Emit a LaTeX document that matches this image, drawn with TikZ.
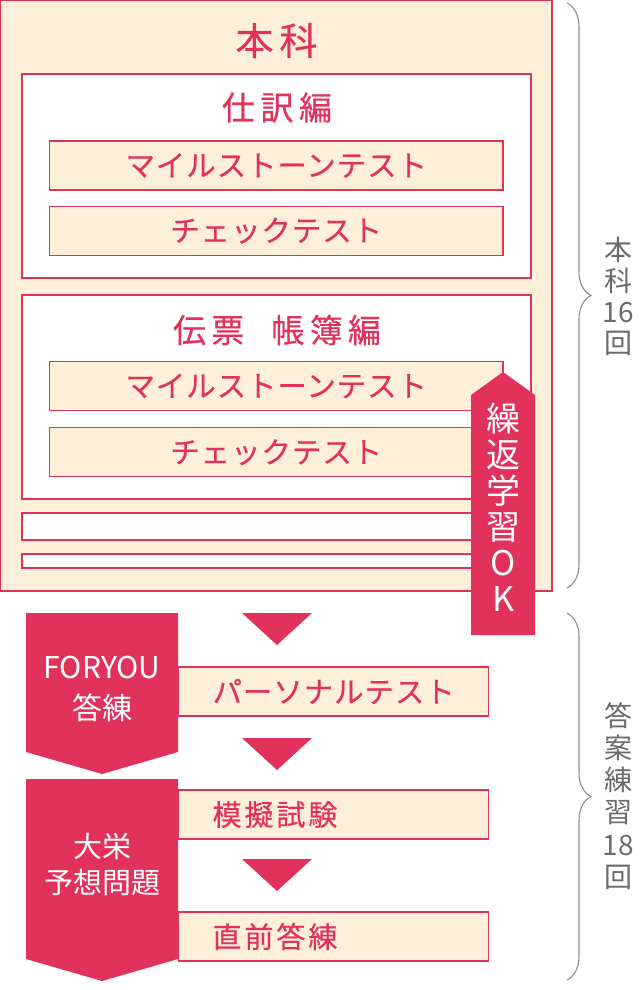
\documentclass[tikz,border=0pt]{standalone}
\usepackage{fontspec}
\setmainfont{Noto Sans CJK JP}
\usetikzlibrary{positioning,calc,decorations.pathreplacing}
\definecolor{crim}{HTML}{E1325B}
\definecolor{cream}{HTML}{FEF0D8}
\definecolor{greytext}{HTML}{6B6B6B}
\definecolor{bracegrey}{HTML}{8C8C8C}
\providecommand{\fsz}[2]{\fontsize{#1}{#2}\selectfont}
\providecommand{\spc}[2]{\fontsize{#1}{#1}\selectfont\addfontfeatures{LetterSpace=#2,FakeBold=0.4}}

\begin{document}
\begin{tikzpicture}[x=1pt,y=-1pt,
    frame/.style={draw=crim,line width=1.2pt},
    testbox/.style={frame,fill=cream,minimum width=453.5pt,minimum height=49pt,inner sep=0pt,text=crim,font=\spc{29.5}{3}},
    stepbox/.style={frame,fill=cream,minimum width=310pt,minimum height=49pt,text width=242pt,inner xsep=34pt,inner ysep=0pt,align=left,anchor=west,text=crim,font=\spc{29.5}{3}},
    title/.style={text=crim,inner sep=0pt},
    tag/.style={text=white,inner sep=0pt,align=center},
    side/.style={text=greytext,inner sep=0pt,align=center},
    curly/.style={draw=bracegrey,line width=1.1pt,decorate,decoration={brace,amplitude=24pt}}]

    \useasboundingbox (0,0) rectangle (640,990);
    % honka block
    \draw[frame,fill=cream] (0.6,0.6) rectangle (552,591);
    \node[title,font=\spc{38}{16}] (honka) at (276.5,40.5) {本科};
    \draw[frame,fill=white] (22,74) rectangle (531,278);
    \node[title,font=\spc{33}{17}] (shiwake) at (277,107.5) {仕訳編};
    \node[testbox] (ms1) at (276.25,165.5) {マイルストーンテスト};
    \node[testbox,below=15pt of ms1] (ck1) {チェックテスト};
    \draw[frame,fill=white] (22,295) rectangle (531,499);
    \node[title,font=\spc{33}{16}] (denpyo) at (277,330) {伝票\hspace{27pt}帳簿編};
    \node[testbox] (ms2) at (276.25,386) {マイルストーンテスト};
    \node[testbox,below=16pt of ms2] (ck2) {チェックテスト};
    \draw[frame,fill=white] (22,513) rectangle (531,540);
    \draw[frame,fill=white] (22,554) rectangle (531,568);
    % repeat tag
    \fill[crim] (471,395) -- (503,372) -- (535,395) -- (535,635) -- (471,635) -- cycle;
    \node[tag,font=\fsz{34}{36},anchor=north] (repeat) at (503,403) {繰\\返\\学\\習\\O\\K};

    % exam part
    \foreach \y in {613,738,859}
        \fill[crim] (242,\y) -- (312,\y) -- (277,\y+32) -- cycle;
    \node[stepbox] (pers) at (178,691.5) {パーソナルテスト};
    \node[stepbox,font=\spc{29}{10}] (mogi) at (178,814.5) {模擬試験};
    \node[stepbox,font=\spc{29}{10}] (choku) at (178,936.5) {直前答練};
    \fill[crim] (26,613) -- (178,613) -- (178,752) -- (102,774) -- (26,752) -- cycle;
    \node[tag,font=\fsz{30}{41}] (foryou) at (102,689) {FORYOU\\答練};
    \fill[crim] (26,779) -- (178,779) -- (178,959) -- (102,981) -- (26,959) -- cycle;
    \node[tag,font=\fsz{29}{36}] (daiei) at (102,865) {大栄\\予想問題};

    % braces
    \coordinate (b1t) at (567,3);
    \coordinate (b1b) at (567,588);
    \coordinate (b2t) at (567,613);
    \coordinate (b2b) at (567,980);
    \draw[curly] (b1t) -- (b1b);
    \node[side,font=\fsz{28}{31}] (cnt1) at (618,296.5) {本\\科\\16\\回};
    \draw[curly] (b2t) -- (b2b);
    \node[side,font=\fsz{28}{32.2}] (cnt2) at (618,796) {答\\案\\練\\習\\18\\回};
\end{tikzpicture}
\end{document}
